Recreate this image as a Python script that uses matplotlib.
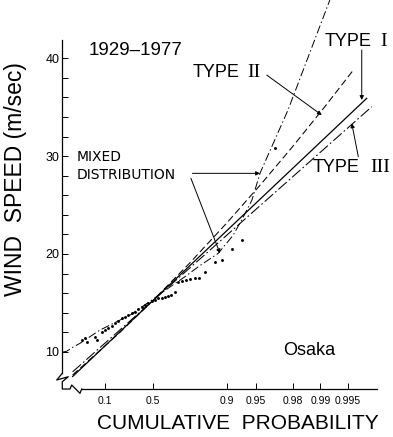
import numpy as np
import matplotlib
matplotlib.use("Agg")
import matplotlib.pyplot as plt

plt.rcParams["font.family"] = ["Liberation Sans", "DejaVu Sans"]
plt.rcParams["lines.scale_dashes"] = False

# observed annual maxima (cumulative probability, wind speed m/s)
obs_prob = [0.0158, 0.0220, 0.0274, 0.0517, 0.0586, 0.0819, 0.100, 0.120, 0.143,
            0.167, 0.193, 0.221, 0.249, 0.278, 0.309, 0.340, 0.370, 0.402, 0.432,
            0.462, 0.492, 0.521, 0.549, 0.576, 0.602, 0.625, 0.647, 0.675, 0.694,
            0.719, 0.742, 0.763, 0.788, 0.806, 0.831, 0.866, 0.887, 0.911, 0.930,
            0.969]
obs_speed = [11.20, 11.37, 11.02, 11.53, 11.25, 12.05, 12.22, 12.39, 12.63,
             12.90, 13.14, 13.42, 13.60, 13.75, 13.96, 14.09, 14.37, 14.60, 14.78,
             14.95, 15.18, 15.34, 15.46, 15.54, 15.62, 15.70, 15.85, 16.13, 17.13,
             17.23, 17.33, 17.48, 17.54, 17.54, 18.18, 19.17, 19.38, 20.50, 21.42,
             30.83]

# mixed distribution curve
mixed_prob = [0.00116, 0.00236, 0.00548, 0.0132, 0.0734, 0.294, 0.492, 0.625,
              0.736, 0.811, 0.876, 0.913, 0.932, 0.945, 0.955, 0.9775, 0.9921]
mixed_speed = [9.95, 10.05, 10.45, 10.86, 12.22, 13.75, 15.28, 16.48,
               17.67, 18.82, 20.06, 21.9, 23.77, 25.51, 28.27, 34.72, 45.96]

# fitted extreme value distributions
type1_prob = [0.00548, 0.996877]
type1_speed = [7.47, 35.91]
type2_prob = [0.00548, 0.1923, 0.4918, 0.7615, 0.900, 0.95595, 0.97996,
              0.99095, 0.995627]
type2_speed = [7.63, 11.82, 15.11, 19.06, 23.22, 27.13, 30.98, 35.0, 38.8]
type3_prob = [0.00548, 0.997247]
type3_speed = [7.95, 35.05]

prob_ticks = [0.1, 0.5, 0.9, 0.95, 0.98, 0.99, 0.995]
prob_labels = ["0.1", "0.5", "0.9", "0.95", "0.98", "0.99", "0.995"]


def gumbel(p):
    p = np.asarray(p, dtype=float)
    with np.errstate(divide="ignore", invalid="ignore"):
        return -np.log(-np.log(p))


def gumbel_inv(y):
    return np.exp(-np.exp(-np.asarray(y, dtype=float)))


fig = plt.figure(figsize=(3.93, 4.37), dpi=100)
ax = fig.add_axes([0.1585, 0.1098, 0.8000, 0.7986])
ax.set_xscale("function", functions=(gumbel, gumbel_inv))
ax.set_xlim(0.001159, 0.997571)
ax.set_ylim(6.19, 41.87)

k = "black"
ax.plot(mixed_prob, mixed_speed, color=k, lw=0.7, ls=(0, (6, 2, 1, 2)), clip_on=False)
ax.plot(type1_prob, type1_speed, color=k, lw=0.9, ls="-")
ax.plot(type2_prob, type2_speed, color=k, lw=0.75, ls=(0, (5, 2.5)))
ax.plot(type3_prob, type3_speed, color=k, lw=0.75, ls=(0, (8, 2, 1.2, 2)))
ax.plot(obs_prob, obs_speed, "o", color=k, ms=2.1, mew=0)

# spines with an axis break in the corner
for side in ("top", "right"):
    ax.spines[side].set_visible(False)
ax.spines["left"].set_bounds(7.79, 41.87)
ax.spines["bottom"].set_bounds(0.0158, 0.997571)
ax.spines["left"].set_linewidth(0.9)
ax.spines["bottom"].set_linewidth(0.9)
bx = [0, -0.0178, 0.0191, 0, 0, 0.0245, 0.0299, 0.0563, 0.0617]
by = [0.045, 0.0258, 0.0352, 0.0209, 0, 0, 0.0115, -0.0123, 0]
ax.plot(bx, by, color=k, lw=0.9, transform=ax.transAxes, clip_on=False)

ax.set_xticks(prob_ticks)
ax.set_xticklabels(prob_labels)
ax.xaxis.set_minor_locator(matplotlib.ticker.NullLocator())
ax.set_yticks([10, 20, 30, 40])
ax.set_yticks(np.arange(12, 41, 2), minor=True)
ax.tick_params(axis="x", direction="in", length=4, width=0.7, labelsize=7.5, pad=5)
ax.tick_params(axis="y", which="both", direction="in", length=4, width=0.7,
               labelsize=9, pad=2)

ax.set_xlabel("CUMULATIVE  PROBABILITY", fontsize=15)
ax.xaxis.set_label_coords(0.557, -0.071)
ax.set_ylabel("WIND  SPEED (m/sec)", fontsize=16.5)
ax.yaxis.set_label_coords(-0.112, 0.603)

ax.text(0.232, 0.971, "1929\u20131977", transform=ax.transAxes, fontsize=13.5,
        ha="center", va="center")
labels = [("TYPE", 0.8355, 0.996, "I", 1.0105),
          ("TYPE", 0.4157, 0.907, "II", 0.5874),
          ("TYPE", 0.7974, 0.634, "III", 0.9787)]
for word, x0, y0, num, x1 in labels:
    ax.text(x0, y0, word, transform=ax.transAxes, fontsize=13, ha="left", va="center")
    ax.text(x1, y0, num, transform=ax.transAxes, fontsize=14, family="Liberation Serif",
            ha="left", va="center")
ax.text(0.047, 0.638, "MIXED\nDISTRIBUTION", transform=ax.transAxes, fontsize=10,
        family="DejaVu Sans", ha="left", va="center", linespacing=1.35)
ax.text(0.702, 0.111, "Osaka", transform=ax.transAxes, fontsize=13,
        ha="left", va="center")

arrow = dict(arrowstyle="-|>", lw=0.7, color=k, mutation_scale=6,
             shrinkA=0, shrinkB=0)
ax.annotate("", xy=(0.996461, 35.74), xytext=(0.996461, 40.85), arrowprops=arrow)
ax.annotate("", xy=(0.99032, 34.20), xytext=(0.96179, 38.29), arrowprops=arrow)
ax.annotate("", xy=(0.99545, 33.35), xytext=(0.996142, 29.94), arrowprops=arrow)
ax.annotate("", xy=(0.95494, 28.24), xytext=(0.7759, 28.24), arrowprops=arrow)
ax.annotate("", xy=(0.8811, 20.06), xytext=(0.7683, 27.73), arrowprops=arrow)

fig.savefig("out.png", dpi=100)
